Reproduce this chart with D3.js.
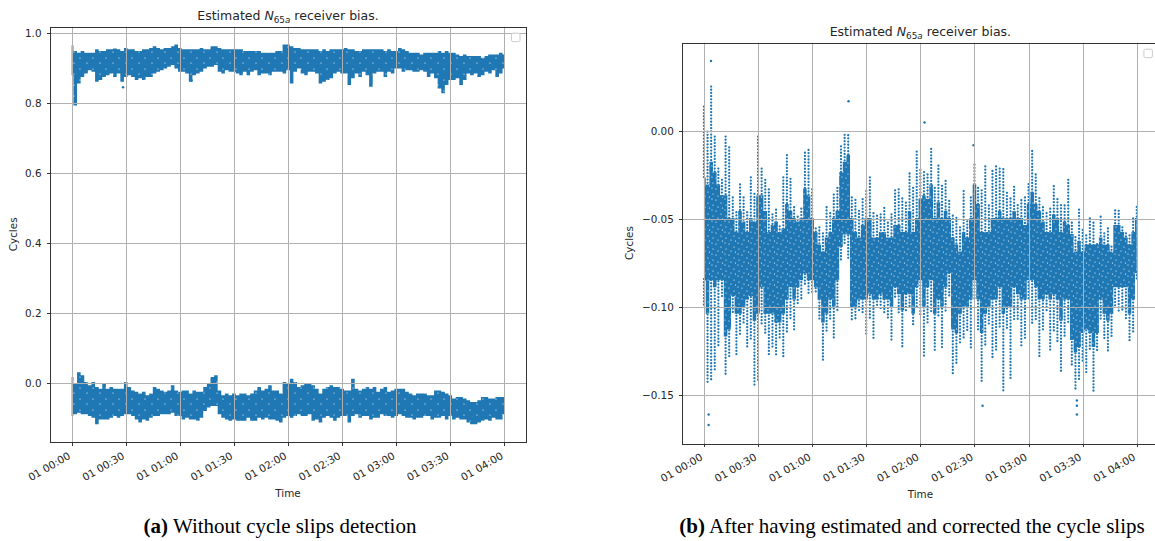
<!DOCTYPE html>
<html>
<head>
<meta charset="utf-8">
<script src="https://cdn.jsdelivr.net/npm/d3@7"></script>
<style>
	body { margin: 0; background: white; }
	text { font-family: "DejaVu Sans", sans-serif; fill: #262626; }
	text.caption { font-family: "Liberation Serif", "Times New Roman", serif; fill: black; }
</style>
</head>
<body>
<svg id="chart" width="1155" height="541"></svg>
<script>

// sample times, minutes after 01 00:00
const minutes = [0,2,4,6,8,10,12,14,16,18,20,22,24,26,28,30,32,34,36,38,40,42,44,46,48,50,52,54,56,58,
	60,62,64,66,68,70,72,74,76,78,80,82,84,86,88,90,92,94,96,98,100,102,104,106,108,110,112,114,116,118,
	120,122,124,126,128,130,132,134,136,138,140,142,144,146,148,150,152,154,156,158,160,162,164,166,168,170,172,174,176,178,
	180,182,184,186,188,190,192,194,196,198,200,202,204,206,208,210,212,214,216,218,220,222,224,226,228,230,232,234,236,238,240];

const time_ticks = [0, 30, 60, 90, 120, 150, 180, 210, 240];
const time_labels = ['01 00:00', '01 00:30', '01 01:00', '01 01:30', '01 02:00', '01 02:30', '01 03:00', '01 03:30', '01 04:00'];

// (a) without cycle slip detection: upper and lower clouds, read as top / bottom of the cloud per sample
const a_upper_hi = [0.961,0.945,0.940,0.945,0.940,0.940,0.940,0.950,0.945,0.945,
	0.950,0.950,0.952,0.950,0.945,0.954,0.950,0.950,0.945,0.945,
	0.950,0.950,0.954,0.959,0.954,0.950,0.954,0.954,0.959,0.964,
	0.954,0.950,0.950,0.950,0.950,0.950,0.954,0.950,0.950,0.959,
	0.959,0.954,0.950,0.950,0.950,0.950,0.950,0.950,0.945,0.945,
	0.945,0.945,0.945,0.940,0.940,0.940,0.940,0.945,0.945,0.964,
	0.964,0.959,0.954,0.954,0.950,0.950,0.950,0.950,0.950,0.945,
	0.950,0.945,0.950,0.950,0.950,0.950,0.954,0.950,0.950,0.945,
	0.945,0.950,0.950,0.950,0.950,0.950,0.950,0.945,0.950,0.945,
	0.945,0.954,0.950,0.945,0.940,0.940,0.940,0.935,0.940,0.940,
	0.940,0.940,0.945,0.940,0.945,0.940,0.940,0.935,0.931,0.935,
	0.931,0.931,0.931,0.931,0.926,0.931,0.935,0.935,0.935,0.940,
	0.935];
const a_upper_lo = [0.883,0.796,0.859,0.878,0.888,0.897,0.893,0.864,0.869,0.878,
	0.883,0.888,0.878,0.888,0.864,0.878,0.883,0.878,0.869,0.874,
	0.869,0.878,0.878,0.888,0.893,0.897,0.902,0.907,0.912,0.902,
	0.893,0.893,0.888,0.864,0.883,0.888,0.893,0.902,0.907,0.907,
	0.912,0.893,0.888,0.897,0.893,0.893,0.888,0.883,0.893,0.883,
	0.893,0.897,0.883,0.888,0.888,0.883,0.893,0.893,0.893,0.888,
	0.897,0.859,0.893,0.902,0.888,0.883,0.893,0.893,0.888,0.859,
	0.864,0.869,0.874,0.888,0.893,0.888,0.888,0.855,0.874,0.888,
	0.878,0.893,0.883,0.850,0.888,0.893,0.893,0.878,0.893,0.888,
	0.902,0.902,0.893,0.897,0.897,0.893,0.893,0.897,0.893,0.878,
	0.888,0.874,0.845,0.831,0.855,0.869,0.869,0.874,0.855,0.869,
	0.888,0.883,0.888,0.878,0.883,0.893,0.888,0.897,0.878,0.888,
	0.902];
const a_lower_hi = [0.014,-0.005,0.028,0.019,0.000,-0.009,0.000,-0.014,-0.019,-0.005,
	-0.019,-0.014,-0.019,-0.019,-0.019,0.000,-0.014,-0.024,-0.028,-0.033,
	-0.028,-0.038,-0.033,-0.014,-0.019,-0.024,-0.028,-0.024,-0.009,-0.024,
	-0.028,-0.024,-0.024,-0.033,-0.024,-0.028,-0.028,-0.014,-0.005,0.014,
	0.019,-0.024,-0.038,-0.033,-0.038,-0.033,-0.038,-0.033,-0.033,-0.038,
	-0.033,-0.024,-0.014,-0.024,-0.019,-0.009,-0.024,-0.024,-0.033,0.000,
	-0.005,0.009,0.000,-0.014,-0.009,-0.005,-0.005,-0.009,-0.019,-0.033,
	-0.019,-0.014,-0.009,-0.014,-0.014,-0.019,-0.024,-0.024,0.009,-0.019,
	-0.024,-0.019,-0.014,-0.019,-0.014,-0.028,-0.019,-0.014,-0.028,-0.024,
	-0.019,-0.019,-0.019,-0.028,-0.033,-0.038,-0.033,-0.033,-0.033,-0.038,
	-0.038,-0.024,-0.024,-0.028,-0.033,-0.038,-0.047,-0.043,-0.043,-0.047,
	-0.052,-0.057,-0.057,-0.052,-0.043,-0.043,-0.047,-0.047,-0.043,-0.043,
	-0.043];
const a_lower_lo = [-0.090,-0.085,-0.081,-0.085,-0.085,-0.090,-0.095,-0.114,-0.100,-0.100,
	-0.100,-0.095,-0.090,-0.095,-0.090,-0.085,-0.085,-0.090,-0.100,-0.109,
	-0.100,-0.104,-0.095,-0.090,-0.090,-0.085,-0.085,-0.085,-0.081,-0.090,
	-0.090,-0.100,-0.095,-0.100,-0.100,-0.104,-0.095,-0.076,-0.066,-0.062,
	-0.062,-0.085,-0.095,-0.100,-0.104,-0.100,-0.104,-0.104,-0.104,-0.095,
	-0.104,-0.104,-0.095,-0.100,-0.095,-0.100,-0.100,-0.104,-0.109,-0.095,
	-0.090,-0.095,-0.090,-0.085,-0.090,-0.090,-0.085,-0.104,-0.100,-0.109,
	-0.095,-0.090,-0.095,-0.104,-0.095,-0.090,-0.090,-0.109,-0.090,-0.085,
	-0.095,-0.090,-0.090,-0.100,-0.095,-0.095,-0.085,-0.090,-0.090,-0.095,
	-0.090,-0.085,-0.090,-0.095,-0.095,-0.100,-0.095,-0.095,-0.090,-0.090,
	-0.100,-0.095,-0.095,-0.090,-0.100,-0.090,-0.100,-0.095,-0.100,-0.100,
	-0.109,-0.114,-0.114,-0.109,-0.104,-0.100,-0.104,-0.095,-0.100,-0.100,
	-0.085];
const a_single_t = [28.5, 66.5];
const a_single_v = [0.845, 0.864];

// (b) after correction: sparse top tail, dense core, sparse bottom tail per sample
const b_tail_top = [0.014,0.001,0.026,-0.003,-0.020,-0.027,-0.003,-0.008,-0.037,-0.046,
	-0.029,-0.037,-0.046,-0.025,-0.035,-0.003,-0.020,-0.027,-0.033,-0.046,
	-0.044,-0.054,-0.025,-0.013,-0.027,-0.042,-0.048,-0.044,-0.011,-0.010,
	-0.033,-0.054,-0.054,-0.058,-0.042,-0.046,-0.036,-0.031,-0.008,-0.002,
	-0.001,-0.037,-0.039,-0.044,-0.038,-0.034,-0.025,-0.046,-0.048,-0.046,
	-0.043,-0.052,-0.046,-0.033,-0.033,-0.037,-0.040,-0.024,-0.031,-0.011,
	-0.022,-0.022,-0.024,-0.010,-0.031,-0.019,-0.031,-0.027,-0.039,-0.048,
	-0.048,-0.054,-0.034,-0.050,-0.037,-0.019,-0.031,-0.033,-0.020,-0.041,
	-0.022,-0.020,-0.020,-0.021,-0.035,-0.037,-0.031,-0.042,-0.038,-0.037,
	-0.030,-0.010,-0.024,-0.038,-0.042,-0.046,-0.044,-0.030,-0.038,-0.042,
	-0.041,-0.027,-0.052,-0.059,-0.044,-0.056,-0.058,-0.049,-0.052,-0.063,
	-0.048,-0.058,-0.054,-0.065,-0.045,-0.044,-0.054,-0.058,-0.058,-0.049,
	-0.043];
const b_core_top = [-0.027,-0.031,-0.018,-0.024,-0.031,-0.037,-0.037,-0.050,-0.050,-0.058,
	-0.046,-0.052,-0.058,-0.050,-0.052,-0.037,-0.037,-0.046,-0.058,-0.054,
	-0.052,-0.058,-0.056,-0.042,-0.046,-0.050,-0.052,-0.050,-0.033,-0.037,
	-0.050,-0.058,-0.065,-0.069,-0.061,-0.058,-0.050,-0.046,-0.024,-0.018,
	-0.014,-0.050,-0.058,-0.061,-0.054,-0.050,-0.050,-0.061,-0.061,-0.058,
	-0.058,-0.061,-0.061,-0.054,-0.054,-0.058,-0.058,-0.046,-0.058,-0.050,
	-0.039,-0.037,-0.039,-0.031,-0.050,-0.041,-0.050,-0.046,-0.050,-0.061,
	-0.065,-0.069,-0.058,-0.061,-0.050,-0.031,-0.042,-0.058,-0.058,-0.058,
	-0.050,-0.050,-0.046,-0.050,-0.050,-0.050,-0.046,-0.050,-0.050,-0.054,
	-0.042,-0.035,-0.042,-0.046,-0.052,-0.058,-0.058,-0.048,-0.050,-0.058,
	-0.052,-0.054,-0.059,-0.069,-0.063,-0.069,-0.065,-0.065,-0.065,-0.065,
	-0.061,-0.065,-0.065,-0.069,-0.054,-0.054,-0.058,-0.061,-0.065,-0.058,
	-0.050];
const b_core_bottom = [-0.084,-0.103,-0.084,-0.088,-0.084,-0.084,-0.116,-0.112,-0.093,-0.103,
	-0.103,-0.099,-0.095,-0.093,-0.107,-0.103,-0.088,-0.103,-0.103,-0.103,
	-0.108,-0.108,-0.103,-0.095,-0.088,-0.095,-0.088,-0.084,-0.080,-0.084,
	-0.084,-0.088,-0.095,-0.108,-0.103,-0.095,-0.099,-0.084,-0.065,-0.058,
	-0.058,-0.099,-0.099,-0.095,-0.095,-0.095,-0.092,-0.095,-0.095,-0.092,
	-0.095,-0.095,-0.099,-0.088,-0.092,-0.101,-0.092,-0.092,-0.103,-0.088,
	-0.084,-0.099,-0.088,-0.084,-0.103,-0.095,-0.099,-0.088,-0.080,-0.112,
	-0.114,-0.103,-0.099,-0.099,-0.095,-0.084,-0.095,-0.114,-0.103,-0.099,
	-0.095,-0.095,-0.088,-0.103,-0.099,-0.099,-0.088,-0.092,-0.095,-0.095,
	-0.084,-0.084,-0.088,-0.095,-0.095,-0.092,-0.095,-0.092,-0.095,-0.107,
	-0.095,-0.095,-0.118,-0.125,-0.122,-0.114,-0.112,-0.114,-0.122,-0.114,
	-0.095,-0.103,-0.107,-0.103,-0.088,-0.088,-0.088,-0.088,-0.103,-0.095,
	-0.080];
const b_tail_bottom = [-0.099,-0.144,-0.142,-0.137,-0.122,-0.095,-0.139,-0.129,-0.103,-0.127,
	-0.116,-0.110,-0.124,-0.118,-0.144,-0.143,-0.110,-0.116,-0.127,-0.124,
	-0.127,-0.118,-0.129,-0.114,-0.107,-0.114,-0.099,-0.095,-0.088,-0.092,
	-0.092,-0.092,-0.107,-0.130,-0.114,-0.108,-0.118,-0.103,-0.073,-0.065,
	-0.073,-0.108,-0.108,-0.103,-0.103,-0.116,-0.107,-0.118,-0.099,-0.101,
	-0.103,-0.107,-0.119,-0.095,-0.103,-0.123,-0.103,-0.101,-0.111,-0.101,
	-0.105,-0.129,-0.110,-0.103,-0.125,-0.105,-0.123,-0.103,-0.095,-0.139,
	-0.133,-0.120,-0.118,-0.114,-0.124,-0.095,-0.114,-0.142,-0.122,-0.110,
	-0.130,-0.125,-0.112,-0.149,-0.112,-0.141,-0.107,-0.107,-0.122,-0.118,
	-0.095,-0.110,-0.107,-0.129,-0.114,-0.103,-0.125,-0.114,-0.120,-0.137,
	-0.118,-0.110,-0.133,-0.148,-0.141,-0.132,-0.137,-0.125,-0.149,-0.125,
	-0.108,-0.118,-0.125,-0.118,-0.099,-0.103,-0.103,-0.107,-0.120,-0.114,
	-0.084];
const b_single_t = [3.9, 80.2, 122.3, 149.5, 154.5, 2.6, 2.6, 206.8, 206.8, 206.8];
const b_single_v = [0.040, 0.017, 0.005, -0.008, -0.156, -0.161, -0.167, -0.153, -0.156, -0.161];

const a_y_ticks = [0.0, 0.2, 0.4, 0.6, 0.8, 1.0];
const a_y_labels = ['0.0', '0.2', '0.4', '0.6', '0.8', '1.0'];
const b_y_ticks = [0.0, -0.05, -0.10, -0.15];
const b_y_labels = ['0.00', '\u22120.05', '\u22120.10', '\u22120.15'];

function main() {

	let svg = d3.select('#chart');
	let blue = '#1f77b4';

	// speckle texture so the dense cloud does not look like a flat block
	let defs = svg.append('defs');
	function speckle(id, holes) {
		let pat = defs.append('pattern')
		.attr('id', id)
		.attr('patternUnits', 'userSpaceOnUse')
		.attr('width', 13)
		.attr('height', 11);
		pat.append('rect').attr('width', 13).attr('height', 11).attr('fill', blue);
		for (let h of holes) {
			pat.append('circle').attr('cx', h[0]).attr('cy', h[1]).attr('r', 0.6).attr('fill', 'white');
		}
	}
	speckle('speckle-light', [[2, 3], [9, 8]]);
	speckle('speckle-dense', [[1, 2], [6, 5], [10, 1], [3, 9], [11, 7], [7.5, 10]]);

	// matplotlib style 5% margins
	function padded(lo, hi) {
		let m = (hi - lo) * 0.05;
		return [lo - m, hi + m];
	}

	function drawPanel(p) {

		let x = d3.scaleLinear().domain(padded(d3.min(minutes), d3.max(minutes))).range([p.left, p.right]);
		let y = d3.scaleLinear().domain(padded(p.ymin, p.ymax)).range([p.bottom, p.top]);

		let g = svg.append('g');

		// dense parts of the cloud, one stepped silhouette per band
		for (let band of p.bands) {
			let area = d3.area()
			.x(d => x(d))
			.y0((d, i) => y(band.lo[i]) + 1.2)
			.y1((d, i) => y(band.hi[i]) - 1.2)
			.curve(d3.curveStep);
			g.append('path')
			.attr('d', area(minutes))
			.attr('fill', `url(#${band.texture})`);
		}

		// sparse streaks above and below the core
		for (let tail of p.tails) {
			g.append('g')
			.selectAll('line')
			.data(minutes)
			.join('line')
			.attr('x1', d => x(d))
			.attr('x2', d => x(d))
			.attr('y1', (d, i) => y(tail.from[i]))
			.attr('y2', (d, i) => y(tail.to[i]))
			.attr('stroke', blue)
			.attr('stroke-width', 2.3)
			.attr('stroke-linecap', 'round')
			.attr('stroke-dasharray', '0,3.2')
			.attr('stroke-dashoffset', (d, i) => (i % 3) * 1.1);
		}

		g.append('g')
		.selectAll('circle')
		.data(p.single_t)
		.join('circle')
		.attr('cx', d => x(d))
		.attr('cy', (d, i) => y(p.single_v[i]))
		.attr('r', 1.25)
		.attr('fill', blue);

		// grid sits above the scatter, like matplotlib
		g.append('g')
		.selectAll('line')
		.data(time_ticks)
		.join('line')
		.attr('x1', d => Math.round(x(d)) + 0.5)
		.attr('x2', d => Math.round(x(d)) + 0.5)
		.attr('y1', p.top)
		.attr('y2', p.bottom)
		.attr('stroke', '#b0b0b0')
		.attr('stroke-width', 1);
		g.append('g')
		.selectAll('line')
		.data(p.y_ticks)
		.join('line')
		.attr('x1', p.left)
		.attr('x2', p.right)
		.attr('y1', d => Math.round(y(d)) + 0.5)
		.attr('y2', d => Math.round(y(d)) + 0.5)
		.attr('stroke', '#b0b0b0')
		.attr('stroke-width', 1);

		// frame
		g.append('rect')
		.attr('x', Math.round(p.left) + 0.5)
		.attr('y', Math.round(p.top) + 0.5)
		.attr('width', Math.round(p.right - p.left))
		.attr('height', Math.round(p.bottom - p.top))
		.attr('fill', 'none')
		.attr('stroke', '#333')
		.attr('stroke-width', 1);

		// ticks
		g.append('g')
		.selectAll('line')
		.data(time_ticks)
		.join('line')
		.attr('x1', d => Math.round(x(d)) + 0.5)
		.attr('x2', d => Math.round(x(d)) + 0.5)
		.attr('y1', Math.round(p.bottom) + 0.5)
		.attr('y2', Math.round(p.bottom) + 4)
		.attr('stroke', '#333');
		g.append('g')
		.selectAll('line')
		.data(p.y_ticks)
		.join('line')
		.attr('x1', Math.round(p.left) - 3)
		.attr('x2', Math.round(p.left) + 0.5)
		.attr('y1', d => Math.round(y(d)) + 0.5)
		.attr('y2', d => Math.round(y(d)) + 0.5)
		.attr('stroke', '#333');

		g.append('g')
		.selectAll('text')
		.data(time_ticks)
		.join('text')
		.attr('transform', d => `translate(${x(d) - 0.5},${p.bottom + 16}) rotate(-30)`)
		.attr('text-anchor', 'end')
		.style('font-size', '10.4px')
		.text((d, i) => time_labels[i]);

		g.append('g')
		.selectAll('text')
		.data(p.y_ticks)
		.join('text')
		.attr('x', p.left - 8.5)
		.attr('y', d => y(d))
		.attr('dy', '0.36em')
		.attr('text-anchor', 'end')
		.style('font-size', '10.4px')
		.text((d, i) => p.y_labels[i]);

		// axis titles
		g.append('text')
		.attr('transform', `translate(${p.left - p.ylabel_gap},${(p.top + p.bottom) / 2}) rotate(-90)`)
		.attr('text-anchor', 'middle')
		.style('font-size', '10.4px')
		.text('Cycles');
		g.append('text')
		.attr('x', (p.left + p.right) / 2)
		.attr('y', p.bottom + 55)
		.attr('text-anchor', 'middle')
		.style('font-size', '10.4px')
		.text('Time');

		let title = g.append('text')
		.attr('x', (p.left + p.right) / 2)
		.attr('y', p.top - 7)
		.attr('text-anchor', 'middle')
		.style('font-size', '12.5px');
		title.append('tspan').text('Estimated ');
		title.append('tspan').style('font-style', 'italic').text('N');
		title.append('tspan').attr('dy', 3).style('font-size', '8.8px').text('65');
		title.append('tspan').style('font-size', '8.8px').style('font-style', 'italic').text('a');
		title.append('tspan').attr('dy', -3).text(' receiver bias.');

		// empty legend box
		g.append('rect')
		.attr('x', p.right - 14.5)
		.attr('y', p.top + 6.5)
		.attr('width', 8.5)
		.attr('height', 8.5)
		.attr('rx', 1.5)
		.attr('fill', 'white')
		.attr('stroke', '#cccccc')
		.attr('stroke-width', 1);

		let caption = g.append('text')
		.attr('class', 'caption')
		.attr('x', p.caption_x)
		.attr('y', 533)
		.attr('text-anchor', 'middle')
		.style('font-size', '21px');
		caption.append('tspan').style('font-weight', 'bold').text(p.caption_tag);
		caption.append('tspan').text(p.caption);
	}

	drawPanel({
		left: 50, right: 526, top: 26.7, bottom: 442,
		ymin: d3.min(a_lower_lo), ymax: d3.max(a_upper_hi),
		bands: [{hi: a_upper_hi, lo: a_upper_lo, texture: 'speckle-light'}, {hi: a_lower_hi, lo: a_lower_lo, texture: 'speckle-light'}],
		tails: [],
		single_t: a_single_t, single_v: a_single_v,
		y_ticks: a_y_ticks, y_labels: a_y_labels,
		ylabel_gap: 33,
		caption_x: 280, caption_tag: '(a)', caption: ' Without cycle slips detection'
	});

	drawPanel({
		left: 682.3, right: 1158.4, top: 42.7, bottom: 443.3,
		ymin: d3.min(b_single_v.concat(b_tail_bottom)), ymax: d3.max(b_single_v.concat(b_tail_top)),
		bands: [{hi: b_core_top, lo: b_core_bottom, texture: 'speckle-dense'}],
		tails: [{from: b_tail_top, to: b_core_top}, {from: b_core_bottom, to: b_tail_bottom}],
		single_t: b_single_t, single_v: b_single_v,
		y_ticks: b_y_ticks, y_labels: b_y_labels,
		ylabel_gap: 49,
		caption_x: 912, caption_tag: '(b)', caption: ' After having estimated and corrected the cycle slips'
	});

}

main();
</script>
</body>
</html>
